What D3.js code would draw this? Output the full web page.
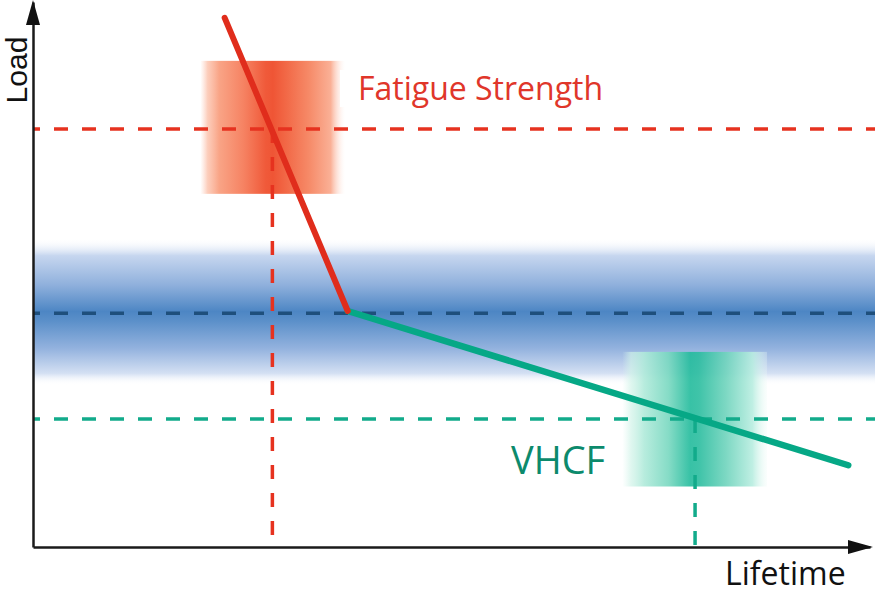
<!DOCTYPE html>
<html><head><meta charset="utf-8">
<script src="https://cdn.jsdelivr.net/npm/d3@7"></script>
<style>html,body{margin:0;padding:0;background:#fff;overflow:hidden}svg{display:block}</style>
</head><body>
<script>
// ---- data (abstract units 0-100) ----
const curveLifetime = [22.9, 37.6, 97.4];   // S-N curve knots
const curveLoad     = [97.1, 43.3, 15.0];
const levelNames    = ["Fatigue Strength", "Knee", "VHCF"];
const levelLoad     = [76.7, 42.9, 23.5];
const levelLifetime = [28.6, null, 79.1];
const redScatterLifetime   = [20.0, 37.3];
const redScatterLoad       = [64.8, 89.2];
const blueScatterLoad      = [29.7, 56.7];
const greenScatterLifetime = [70.4, 87.7];
const greenScatterLoad     = [11.1, 35.8];
const axisLabels = ["Lifetime", "Load"];

const W = 875, H = 594;
const x = d3.scaleLinear().domain([0, 100]).range([33, 870]);
const y = d3.scaleLinear().domain([0, 100]).range([547, 2]);

const svg = d3.select("body").append("svg").attr("width", W).attr("height", H);
const defs = svg.append("defs");

function grad(id, horiz, stops) {
  const g = defs.append("linearGradient").attr("id", id)
    .attr("x1", 0).attr("y1", 0).attr("x2", horiz ? 1 : 0).attr("y2", horiz ? 0 : 1);
  stops.forEach(s => g.append("stop").attr("offset", s[0]).attr("stop-color", s[1]).attr("stop-opacity", s[2] == null ? 1 : s[2]));
}
grad("gRed", true, [[0, "#fdd0c0", 0], [0.05, "#fcc8b4", 0.9], [0.13, "#f9a486"], [0.3, "#f68262"], [0.45, "#f05a3a"], [0.5, "#ef5535"], [0.6, "#f26a48"], [0.75, "#f68a68"], [0.9, "#fab096"], [1, "#fff0ea", 0]]);
grad("gBlue", false, [[0, "#ffffff", 0], [0.12, "#c6d6ef"], [0.32, "#8fb0dc"], [0.5, "#4d86c4"], [0.56, "#5a8fc9"], [0.75, "#93b2de"], [0.92, "#d4e0f3"], [1, "#ffffff", 0]]);
grad("gGreen", true, [[0, "#d8f5ec", 0], [0.06, "#d0f3e8", 0.75], [0.15, "#b0eada"], [0.32, "#78d8c0"], [0.47, "#22bb9c"], [0.53, "#2abd9f"], [0.72, "#70d4bd"], [0.9, "#b8ede0"], [1, "#eefbf7", 0.3]]);

// blue scatter band
svg.append("rect")
  .attr("x", x(0)).attr("width", W - x(0))
  .attr("y", y(blueScatterLoad[1])).attr("height", y(blueScatterLoad[0]) - y(blueScatterLoad[1]))
  .attr("fill", "url(#gBlue)");
// red scatter box
svg.append("rect")
  .attr("x", x(redScatterLifetime[0])).attr("width", x(redScatterLifetime[1]) - x(redScatterLifetime[0]))
  .attr("y", y(redScatterLoad[1])).attr("height", y(redScatterLoad[0]) - y(redScatterLoad[1]))
  .attr("fill", "url(#gRed)");
// green scatter box
svg.append("rect")
  .attr("x", x(greenScatterLifetime[0])).attr("width", x(greenScatterLifetime[1]) - x(greenScatterLifetime[0]))
  .attr("y", y(greenScatterLoad[1])).attr("height", y(greenScatterLoad[0]) - y(greenScatterLoad[1]))
  .attr("fill", "url(#gGreen)").attr("opacity", 0.9);

// dashed level lines
const levelColors = ["#e6321f", "#1e4f7c", "#12ab8b"];
levelLoad.forEach((v, i) => {
  svg.append("line").attr("x1", x(0)).attr("x2", W).attr("y1", y(v)).attr("y2", y(v))
    .attr("stroke", levelColors[i]).attr("stroke-width", 3.5)
    .attr("stroke-dasharray", "14,14").attr("stroke-dashoffset", 7);
  if (levelLifetime[i] != null) {
    svg.append("line").attr("x1", x(levelLifetime[i])).attr("x2", x(levelLifetime[i]))
      .attr("y1", y(v)).attr("y2", y(0))
      .attr("stroke", levelColors[i]).attr("stroke-width", 3.5).attr("stroke-dasharray", "14,14");
  }
});

// label backgrounds + labels
svg.append("rect").attr("x", 340).attr("y", 70).attr("width", 275).attr("height", 37).attr("fill", "#fff");
svg.append("text").attr("x", 358).attr("y", 100).text(levelNames[0])
  .attr("font-family", "Open Sans").attr("font-size", 32).attr("fill", "#e0362a");
svg.append("rect").attr("x", 502).attr("y", 432).attr("width", 119).attr("height", 56).attr("fill", "#fff");
svg.append("text").attr("x", 511).attr("y", 474).text(levelNames[2])
  .attr("font-family", "Open Sans").attr("font-size", 38).attr("fill", "#0c8a6c");

// S-N curve
const pts = curveLifetime.map((d, i) => [x(d), y(curveLoad[i])]);
const line = d3.line();
svg.append("path").attr("d", line(pts.slice(1, 3))).attr("fill", "none")
  .attr("stroke", "#06a886").attr("stroke-width", 6.5).attr("stroke-linecap", "round");
svg.append("path").attr("d", line(pts.slice(0, 2))).attr("fill", "none")
  .attr("stroke", "#e02d1c").attr("stroke-width", 6).attr("stroke-linecap", "round");

// axes
const gx = svg.append("g").attr("transform", `translate(0,${y(0)})`)
  .call(d3.axisBottom(x).tickValues([]).tickSizeOuter(0));
const gy = svg.append("g").attr("transform", `translate(${x(0)},0)`)
  .call(d3.axisLeft(y).tickValues([]).tickSizeOuter(0));
[gx, gy].forEach(g => g.select(".domain").attr("stroke", "#1a1a1a").attr("stroke-width", 2.5));
svg.append("path").attr("d", `M${x(100) + 3},${y(0)} L${x(100) - 22},${y(0) - 7} L${x(100) - 22},${y(0) + 7} Z`).attr("fill", "#111");
svg.append("path").attr("d", `M${x(0)},${y(100) - 2} L${x(0) - 7},${y(100) + 23} L${x(0) + 7},${y(100) + 23} Z`).attr("fill", "#111");

svg.append("text").attr("x", 725).attr("y", 585).text(axisLabels[0])
  .attr("font-family", "Open Sans").attr("font-size", 32).attr("fill", "#111");
svg.append("text").attr("transform", `translate(27,70) rotate(-90)`).attr("text-anchor", "middle").text(axisLabels[1])
  .attr("font-family", "Liberation Sans").attr("font-size", 30).attr("fill", "#111");
</script>
</body></html>
